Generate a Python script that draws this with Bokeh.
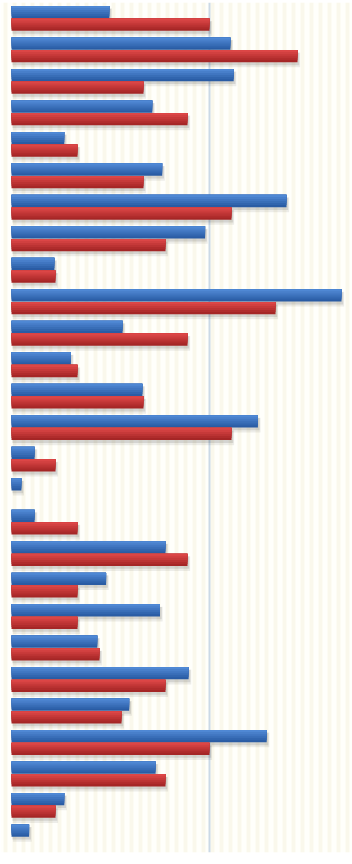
import numpy as np
from bokeh.plotting import figure
from bokeh.models import Range1d, Span, ColumnDataSource
from bokeh.embed import file_html
from bokeh.resources import INLINE

# ---- data ----
categories = [f"Item {i + 1}" for i in range(27)]
series_blue = [4.45, 9.95, 10.1, 6.4, 2.4, 6.85, 12.5, 8.8, 1.95, 15.0, 5.05, 2.7, 5.95, 11.2,
               1.05, 0.45, 1.05, 7.0, 4.3, 6.75, 3.9, 8.05, 5.35, 11.6, 6.55, 2.4, 0.8]
series_red = [9, 13, 6, 8, 3, 6, 10, 7, 2, 12, 8, 3, 6, 10,
              2, 0, 3, 8, 3, 3, 4, 7, 5, 9, 7, 2, 0]
grid_value = 9

n = len(categories)
X_MIN, X_MAX = -0.5, 15.5

p = figure(width=352, height=864, x_range=Range1d(X_MIN, X_MAX), y_range=Range1d(n, 0),
           output_backend="svg", toolbar_location=None,
           min_border_left=0, min_border_right=0, min_border_top=2, min_border_bottom=12)
p.xaxis.visible = False
p.yaxis.visible = False
p.xgrid.visible = False
p.ygrid.visible = False
p.outline_line_color = None
p.background_fill_color = "#ffffff"
p.border_fill_color = "#ffffff"

# striped background
p.quad(left=X_MIN, right=X_MAX, top=0, bottom=n, fill_color="#fffffb", line_color=None,
       hatch_pattern="|", hatch_color="#faf8ec", hatch_scale=9, hatch_weight=4, level="image")

p.add_layout(Span(location=grid_value, dimension="height", line_color="#cbd9e6",
                  line_width=2, level="underlay"))

idx = np.arange(n)
H = 0.39
blue_y = idx + 0.5 - 0.195
red_y = idx + 0.5 + 0.205


def hexmix(c1, c2, t):
    a = [int(c1[i:i + 2], 16) for i in (1, 3, 5)]
    b = [int(c2[i:i + 2], 16) for i in (1, 3, 5)]
    return "#" + "".join(f"{int(round(a[k] + (b[k] - a[k]) * t)):02x}" for k in range(3))


def draw_bar(ys, vals, top_col, bot_col):
    vals = np.array(vals, dtype=float)
    mask = vals > 0
    m = int(mask.sum())
    # soft shadow
    for dy, dx, alpha, hh in [(0.12, 0.12, 0.07, H + 0.08), (0.09, 0.08, 0.10, H)]:
        src = ColumnDataSource(dict(y=ys[mask] + dy, left=np.zeros(m) + dx * 0.5,
                                    right=vals[mask] + dx))
        p.hbar(y="y", left="left", right="right", height=hh, source=src,
               fill_color="#000000", fill_alpha=alpha, line_color=None)
    # gradient: layered bars anchored at the top edge, shrinking downward
    k = 6
    for s in range(k):
        t = 1 - s / (k - 1)
        col = hexmix(top_col, bot_col, t)
        hh = H * (k - s) / k
        src = ColumnDataSource(dict(y=ys[mask] - H / 2 + hh / 2, left=np.zeros(m), right=vals[mask]))
        p.hbar(y="y", left="left", right="right", height=hh, source=src,
               fill_color=col, line_color=None)


draw_bar(blue_y, series_blue, "#4f88d4", "#2a5ca4")
draw_bar(red_y, series_red, "#dc4646", "#a52626")

open("out.html", "w").write(file_html(p, INLINE))
